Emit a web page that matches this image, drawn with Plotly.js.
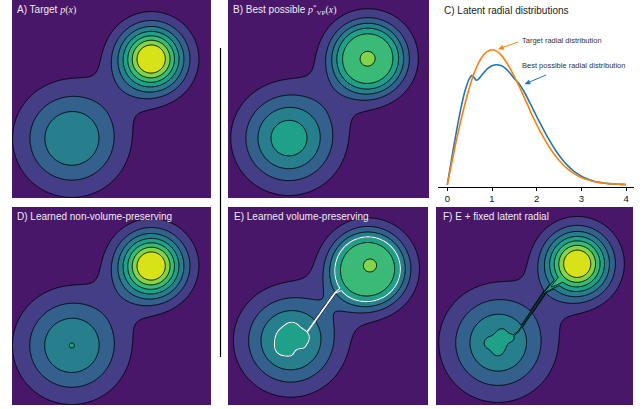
<!DOCTYPE html>
<html><head><meta charset="utf-8">
<script src="https://cdn.plot.ly/plotly-3.0.1.min.js"></script>
<style>html,body{margin:0;padding:0;background:#fff}#chart{width:643px;height:409px}</style>
</head><body><div id="chart"></div>
<script>
// ================= DATA =================
// Contour levels shared by all density panels (one level step = 1 density unit)
const levelStart = 1, levelEnd = 7, levelStep = 1;
const highlightLevel = 4;   // contour drawn in white in panel E

// Panel A: target p(x) – isotropic Gaussian components
const aGaussCx = [-1.60, 1.60, 1.60];
const aGaussCy = [-1.60, 1.62, 1.62];
const aGaussPeak = [3.98, 8.0, 0.5];
const aGaussSigma = [1.43, 0.88, 1.6];

// Panel B: best possible volume-preserving density
const bGaussCx = [-1.58], bGaussCy = [-1.59], bGaussPeak = [4.6], bGaussSigma = [1.32];
const bFlatCx = [1.57], bFlatCy = [1.64], bFlatPeak = [5.9], bFlatScale = [1.43], bFlatPower = [4.7];
const bBumpX = [1.57], bBumpY = [1.64], bBumpAmp = [0.22], bBumpSigma = [0.22];

// Panel D: learned non-volume-preserving
const dGaussCx = [-1.60, 1.60, 1.60];
const dGaussCy = [-1.60, 1.62, 1.62];
const dGaussPeak = [4.0012, 8.0, 0.5];
const dGaussSigma = [1.43, 0.88, 1.6];

// Panel E: learned volume-preserving
const eGaussCx = [-1.50], eGaussCy = [-1.40], eGaussPeak = [4.45], eGaussSigma = [1.32];
const eFlatCx = [1.60], eFlatCy = [1.50], eFlatPeak = [5.9], eFlatScale = [1.50], eFlatPower = [5.0];
const eRidgeX = [-0.80, 0.28, 1.20], eRidgeY = [-1.00, 0.53, 1.10];
const eRidgeH = [4.2, 4.25, 5.5], eRidgeW = [0.05, 0.05, 0.28];
const eBumpX = [-1.45, -0.95, -1.90, -1.20, 1.70], eBumpY = [-0.85, -1.25, -1.75, -1.85, 1.66];
const eBumpAmp = [0.35, 0.40, 0.25, -0.30, 0.20], eBumpSigma = [0.15, 0.15, 0.18, 0.15, 0.20];

// Panel F: E + fixed latent radial
const fGaussCx = [-1.48, 1.74, 1.74], fGaussCy = [-1.49, 1.71, 1.71];
const fGaussPeak = [4.12, 7.9, 0.5], fGaussSigma = [1.43, 0.88, 1.6];
const fRidgeX = [-0.95, -0.67, 0.43, 1.10], fRidgeY = [-1.25, -1.05, 0.57, 1.10];
const fRidgeH = [4.3, 4.3, 4.4, 6.0], fRidgeW = [0.06, 0.05, 0.05, 0.25];
const fBumpX = [-1.90, -1.30, -0.90, -1.50], fBumpY = [-1.50, -1.05, -1.25, -1.85];
const fBumpAmp = [0.30, 0.30, 0.35, 0.25], fBumpSigma = [0.15, 0.15, 0.15, 0.15];

// Panel C: latent radial distributions
const targetRadialR = [0,0.1,0.2,0.3,0.4,0.5,0.6,0.7,0.8,0.9,1.0,1.1,1.2,1.3,1.4,1.5,1.6,1.7,1.8,1.9,2.0,2.1,2.2,2.3,2.4,2.5,2.6,2.7,2.8,2.9,3.0,3.1,3.2,3.3,3.4,3.5,3.6,3.7,3.8,3.9,4.0];
const targetRadial = [0,0.0995,0.196,0.287,0.368,0.441,0.502,0.548,0.581,0.600,0.607,0.601,0.584,0.558,0.525,0.487,0.446,0.402,0.358,0.311,0.271,0.232,0.196,0.163,0.135,0.110,0.088,0.070,0.055,0.043,0.033,0.025,0.019,0.014,0.010,0.0076,0.0055,0.0040,0.0028,0.0020,0.0013];
const bestRadialR = [0,0.1,0.2,0.3,0.4,0.5,0.55,0.6,0.65,0.7,0.8,0.9,1.0,1.1,1.2,1.3,1.4,1.5,1.6,1.7,1.8,1.9,2.0,2.1,2.2,2.3,2.4,2.5,2.6,2.7,2.8,2.9,3.0,3.1,3.2,3.3,3.4,3.5,3.6,3.7,3.8,3.9,4.0];
const bestRadial = [0,0.12,0.235,0.34,0.425,0.48,0.492,0.482,0.47,0.475,0.50,0.522,0.535,0.54,0.536,0.524,0.503,0.478,0.455,0.425,0.388,0.348,0.307,0.268,0.23,0.195,0.162,0.133,0.107,0.085,0.066,0.051,0.039,0.029,0.021,0.015,0.011,0.008,0.0055,0.004,0.0028,0.0019,0.0013];
const radialTicks = [0,1,2,3,4];

// ================= STYLE =================
const bandColors = ['#481769','#433e85','#34608d','#277f8e','#1fa088','#3aba76','#84d44b','#d8e219'];
const W = 643, H = 409;
const FONT = 'Liberation Sans, Arial, sans-serif';
const px = v => v / W, py = v => 1 - v / H;

// ================= DENSITY GRIDS =================
const N = 301;
const grid = [];
for (let i = 0; i < N; i++) grid.push(-4 + 8 * i / (N - 1));

function density(x, y, s) {
  let v = 0;
  (s.gcx || []).forEach((cx, k) => {
    const dx = x - cx, dy = y - s.gcy[k];
    v += s.gpk[k] * Math.exp(-(dx*dx + dy*dy) / (2 * s.gsg[k] * s.gsg[k]));
  });
  (s.fcx || []).forEach((cx, k) => {
    const r = Math.hypot(x - cx, y - s.fcy[k]);
    v += s.fpk[k] / (1 + Math.pow(r / s.fa[k], s.fb[k]));
  });
  (s.bx || []).forEach((bx, k) => {
    const dx = x - bx, dy = y - s.by[k];
    v += s.ba[k] * Math.exp(-(dx*dx + dy*dy) / (2 * s.bs[k] * s.bs[k]));
  });
  if (s.rx) {
    let best = 0;
    for (let k = 0; k < s.rx.length - 1; k++) {
      const x0 = s.rx[k], y0 = s.ry[k], x1 = s.rx[k+1], y1 = s.ry[k+1];
      const ux = x1 - x0, uy = y1 - y0, L2 = ux*ux + uy*uy;
      let t = ((x - x0) * ux + (y - y0) * uy) / L2;
      t = Math.max(0, Math.min(1, t));
      const qx = x0 + t * ux, qy = y0 + t * uy;
      const d2 = (x - qx) * (x - qx) + (y - qy) * (y - qy);
      const w = s.rw[k] + t * (s.rw[k+1] - s.rw[k]);
      const h = s.rh[k] + t * (s.rh[k+1] - s.rh[k]);
      best = Math.max(best, h * Math.exp(-d2 / (2 * w * w)));
    }
    v = Math.max(v, best);
  }
  return v;
}
function makeZ(spec) {
  const Z = [];
  for (let j = 0; j < N; j++) {
    const row = new Array(N);
    for (let i = 0; i < N; i++) row[i] = density(grid[i], grid[j], spec);
    Z.push(row);
  }
  return Z;
}

const specs = {
  A: {gcx: aGaussCx, gcy: aGaussCy, gpk: aGaussPeak, gsg: aGaussSigma},
  B: {gcx: bGaussCx, gcy: bGaussCy, gpk: bGaussPeak, gsg: bGaussSigma,
      fcx: bFlatCx, fcy: bFlatCy, fpk: bFlatPeak, fa: bFlatScale, fb: bFlatPower,
      bx: bBumpX, by: bBumpY, ba: bBumpAmp, bs: bBumpSigma},
  D: {gcx: dGaussCx, gcy: dGaussCy, gpk: dGaussPeak, gsg: dGaussSigma},
  E: {gcx: eGaussCx, gcy: eGaussCy, gpk: eGaussPeak, gsg: eGaussSigma,
      fcx: eFlatCx, fcy: eFlatCy, fpk: eFlatPeak, fa: eFlatScale, fb: eFlatPower,
      rx: eRidgeX, ry: eRidgeY, rh: eRidgeH, rw: eRidgeW,
      bx: eBumpX, by: eBumpY, ba: eBumpAmp, bs: eBumpSigma},
  F: {gcx: fGaussCx, gcy: fGaussCy, gpk: fGaussPeak, gsg: fGaussSigma,
      rx: fRidgeX, ry: fRidgeY, rh: fRidgeH, rw: fRidgeW,
      bx: fBumpX, by: fBumpY, ba: fBumpAmp, bs: fBumpSigma}
};

const nBands = bandColors.length - 1;
const colorscale = bandColors.map((c, i) => [i / nBands, c]);

function contourTrace(Z, xa, ya) {
  return {
    type: 'contour', x: grid, y: grid, z: Z, xaxis: xa, yaxis: ya,
    autocontour: false,
    contours: {start: levelStart, end: levelEnd, size: levelStep, coloring: 'fill'},
    colorscale: colorscale, showscale: false,
    line: {color: '#000', width: 0.9, smoothing: 1},
    hoverinfo: 'skip'
  };
}

const zE = makeZ(specs.E);
const traces = [
  contourTrace(makeZ(specs.A), 'x', 'y'),
  contourTrace(makeZ(specs.B), 'x2', 'y2'),
  contourTrace(makeZ(specs.D), 'x4', 'y4'),
  contourTrace(zE, 'x5', 'y5'),
  {
    type: 'contour', x: grid, y: grid, z: zE, xaxis: 'x5', yaxis: 'y5',
    autocontour: false,
    contours: {start: highlightLevel, end: highlightLevel, size: levelStep, coloring: 'none'},
    showscale: false, line: {color: '#ffffff', width: 1.1, smoothing: 1}, hoverinfo: 'skip'
  },
  contourTrace(makeZ(specs.F), 'x6', 'y6'),
  {type: 'scatter', mode: 'lines', x: bestRadialR, y: bestRadial, xaxis: 'x3', yaxis: 'y3',
   line: {color: '#1f77b4', width: 1.6, shape: 'spline', smoothing: 0.6}, hoverinfo: 'skip'},
  {type: 'scatter', mode: 'lines', x: targetRadialR, y: targetRadial, xaxis: 'x3', yaxis: 'y3',
   line: {color: '#ff7f0e', width: 1.6, shape: 'spline', smoothing: 0.6}, hoverinfo: 'skip'}
];

// panel boxes in pixels [left, right, top, bottom]
const boxes = {
  A: [12, 211, 0, 198], B: [228, 429, 0, 198],
  D: [12, 211, 207, 405], E: [228, 428, 207, 405], F: [436, 633, 207, 405]
};
function dens(box, anchor) {
  return [
    {domain: [px(box[0]), px(box[1])], range: [-4, 4], visible: false, anchor: anchor[1]},
    {domain: [py(box[3]), py(box[2])], range: [-4, 4], visible: false, anchor: anchor[0]}
  ];
}
const [xA, yA] = dens(boxes.A, ['x', 'y']);
const [xB, yB] = dens(boxes.B, ['x2', 'y2']);
const [xD, yD] = dens(boxes.D, ['x4', 'y4']);
const [xE, yE] = dens(boxes.E, ['x5', 'y5']);
const [xF, yF] = dens(boxes.F, ['x6', 'y6']);

// Panel C axis mapping: x0 at px 447.3, 44.7 px/unit; y0 at px 184.8, 222.4 px/unit
const cLeft = 438, cRight = 634, cTop = 30, cBottom = 187;
const cx0 = 447.3, cxs = 44.7, cy0 = 184.8, cys = 222.4;
const xr = [(cLeft - cx0) / cxs, (cRight - cx0) / cxs];
const yr = [(cy0 - cBottom) / cys, (cy0 - cTop) / cys];

const titleFont = {family: FONT, size: 10, color: '#ececec'};
const serif = t => '<span style="font-family:Liberation Serif, serif">' + t + '</span>';
function title(text, x, y, font) {
  return {text: text, xref: 'paper', yref: 'paper', x: px(x), y: py(y),
          xanchor: 'left', yanchor: 'middle', showarrow: false, font: font || titleFont};
}
const annFont = {family: FONT, size: 7.5, color: '#333'};

// arrows drawn as shapes (tail -> head, pixel positions)
function arrowShapes(tx, ty, hx, hy, color) {
  const dx = hx - tx, dy = hy - ty, L = Math.hypot(dx, dy);
  const ux = dx / L, uy = dy / L, nx = -uy, ny = ux;
  const len = 5, hw = 2.2;
  const bx = hx - len * ux, by = hy - len * uy;
  const p1 = [bx + hw * nx, by + hw * ny], p2 = [bx - hw * nx, by - hw * ny];
  return [
    {type: 'line', xref: 'paper', yref: 'paper', x0: px(tx), y0: py(ty), x1: px(bx), y1: py(by),
     line: {color: color, width: 1}},
    {type: 'path', xref: 'paper', yref: 'paper',
     path: 'M' + px(hx) + ',' + py(hy) + ' L' + px(p1[0]) + ',' + py(p1[1]) + ' L' + px(p2[0]) + ',' + py(p2[1]) + ' Z',
     fillcolor: color, line: {color: color, width: 0.5}}
  ];
}

const layout = {
  width: W, height: H, margin: {l: 0, r: 0, t: 0, b: 0},
  paper_bgcolor: '#fff', plot_bgcolor: '#fff', showlegend: false,
  xaxis: xA, yaxis: yA, xaxis2: xB, yaxis2: yB,
  xaxis4: xD, yaxis4: yD, xaxis5: xE, yaxis5: yE, xaxis6: xF, yaxis6: yF,
  xaxis3: {domain: [px(cLeft), px(cRight)], range: xr, anchor: 'y3',
           showline: true, linecolor: '#000', linewidth: 1, ticks: 'outside', ticklen: 3,
           tickcolor: '#000', tickvals: radialTicks, showgrid: false, zeroline: false,
           tickfont: {family: FONT, size: 9.5, color: '#111'}},
  yaxis3: {domain: [py(cBottom), py(cTop)], range: yr, anchor: 'x3', visible: false},
  shapes: [{type: 'line', xref: 'paper', yref: 'paper', x0: px(220.5), x1: px(220.5),
            y0: py(48), y1: py(357), line: {color: '#000', width: 1.2}}]
    .concat(arrowShapes(518, 42, 498.5, 49, '#ff7f0e'))
    .concat(arrowShapes(546, 75, 525, 84, '#1f77b4')),
  annotations: [
    title('A) Target ' + serif('<i>p</i>(<i>x</i>)'), 15, 10),
    title('B) Best possible ' + serif('<i>p</i><sup>*</sup><sub>VP</sub>(<i>x</i>)'), 231, 10),
    title('C) Latent radial distributions', 442, 10, {family: FONT, size: 10, color: '#222'}),
    title('D) Learned non-volume-preserving', 15, 217),
    title('E) Learned volume-preserving', 232, 217),
    title('F) E + fixed latent radial', 441, 217),
    title('Target radial distribution', 520, 41, annFont),
    title('Best possible radial distribution', 520, 66, annFont)
  ]
};

Plotly.newPlot('chart', traces, layout, {staticPlot: true, displayModeBar: false});
</script></body></html>
